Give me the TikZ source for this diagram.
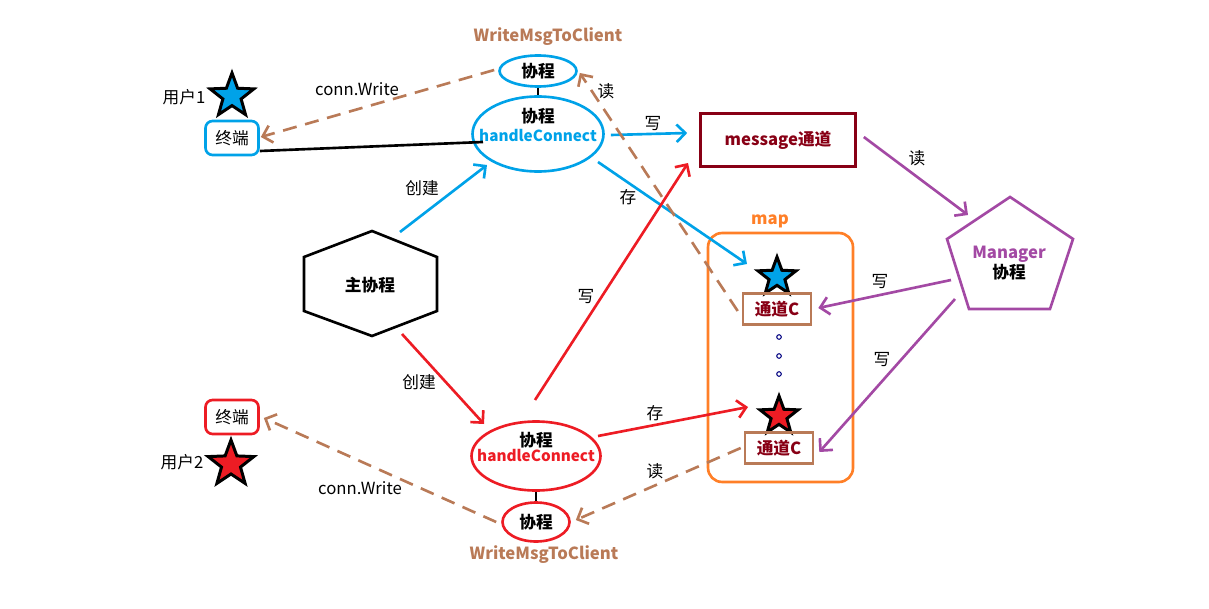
\documentclass[tikz,border=0pt]{standalone}
\usepackage{fontspec}
\setmainfont{Noto Sans CJK SC}
\usetikzlibrary{shapes.geometric,arrows.meta,calc}
\definecolor{cblue}{RGB}{0,162,232}
\definecolor{cred}{RGB}{237,28,36}
\definecolor{cbrown}{RGB}{185,122,87}
\definecolor{cdred}{RGB}{136,0,21}
\definecolor{cpurple}{RGB}{163,73,164}
\definecolor{corange}{RGB}{255,127,39}
\newcommand{\hcname}[1]{\textcolor{#1}{\fontsize{8.7}{11}\selectfont handleConnect}}
\tikzset{
  every node/.style={font=\fontsize{9.5}{11}\selectfont},
  bold/.style={font=\fontsize{9.5}{11}\selectfont\bfseries},
  ubox/.style={draw, line width=1.5pt, rounded corners=4pt, minimum width=1.06cm, minimum height=0.68cm, inner sep=0pt},
  chanbox/.style={draw=cbrown, line width=1.5pt, minimum width=1.36cm, minimum height=0.62cm, inner sep=0pt, text=cdred, bold},
  ell/.style={draw, ellipse, line width=1.5pt, inner sep=0pt},
  userstar/.style={star, star points=5, star point ratio=2.4, draw=black, line width=1.7pt, inner sep=0pt},
  arr/.style={line width=1.5pt, -{Straight Barb[length=5pt,width=10pt]}},
  dasharr/.style={arr, cbrown, dash pattern=on 8pt off 5pt}
}
\begin{document}
\begin{tikzpicture}[x=0.02cm, y=-0.02cm]
  \useasboundingbox (0,0) rectangle (1209,608);
  % main goroutine
  \draw[line width=1.5pt] (372,231) -- (437,257) -- (437,311) -- (372,336) -- (304,311) -- (304,257) -- cycle;
  \node[bold] (main) at (370,285) {主协程};
  % user 1 (top)
  \node[userstar, fill=cblue, minimum size=0.92cm] (star1) at (232,96) {};
  \node (user1) at (184,97) {用户1};
  \node[ubox, draw=cblue] (term1) at (232,138) {终端};
  \node[ell, draw=cblue, minimum width=2.62cm, minimum height=1.5cm] (hc1) at (538,134) {};
  \node[bold, align=center] (hc1txt) at ($(hc1)+(0,-9)$) {协程\\\hcname{cblue}};
  \node[ell, draw=cblue, minimum width=1.54cm, minimum height=0.62cm, bold] (wmt1) at (538,71) {协程};
  \node[bold, text=cbrown] (wmt1lbl) at (548,37) {WriteMsgToClient};
  % user 2 (bottom)
  \node[userstar, fill=cred, minimum size=0.96cm] (star2) at (231,464) {};
  \node (user2) at (182,462) {用户2};
  \node[ubox, draw=cred] (term2) at (232,417) {终端};
  \node[ell, draw=cred, minimum width=2.58cm, minimum height=1.38cm] (hc2) at (536,456) {};
  \node[bold, align=center] (hc2txt) at ($(hc2)+(0,-9)$) {协程\\[-2pt]\hcname{cred}};
  \node[ell, draw=cred, minimum width=1.34cm, minimum height=0.78cm, bold] (wmt2) at (536,522) {协程};
  \node[bold, text=cbrown] (wmt2lbl) at (544,555) {WriteMsgToClient};
  % message channel and manager
  \node[draw=cdred, line width=1.5pt, minimum width=3.1cm, minimum height=1.06cm, bold, text=cdred] (msg) at (778,140) {message通道};
  \draw[cpurple, line width=1.5pt] (1010,197) -- (1073,239) -- (1050,309) -- (969,309) -- (947,239) -- cycle;
  \node[bold, align=center] (mgr) at (1009,263) {\textcolor{cpurple}{Manager}\\协程};
  % map of client channels
  \node[draw=corange, line width=1.5pt, rounded corners=8pt, minimum width=2.9cm, minimum height=4.98cm] (mapbox) at (780.5,357.5) {};
  \node[bold, text=corange] (maplbl) at (770,221) {map};
  \node[userstar, fill=cblue, minimum size=0.8cm] (mstar1) at (777,277) {};
  \node[chanbox] (ch1) at (777,309) {通道C};
  \foreach \y in {337,356,374}
    \draw[blue!50!black, line width=0.6pt] (779,\y) circle (1.3pt);
  \node[userstar, fill=cred, minimum size=0.8cm] (mstar2) at (779,416) {};
  \node[chanbox] (ch2) at (779,448) {通道C};
  % connections
  \draw[line width=1.5pt] ($(term1.east)+(0,13)$) -- ($(hc1)+(-55,8)$);
  \draw[line width=1.5pt] (wmt1.south) -- (hc1.north);
  \draw[line width=1.5pt] (hc2.south) -- (wmt2.north);
  \draw[arr, cblue] ($(main)+(30,-53)$) -- ($(hc1)+(-51,31)$);
  \draw[arr, cred] ($(main)+(32,49)$) -- ($(hc2)+(-52,-32)$);
  \draw[arr, cblue] ($(hc1.east)+(6,1)$) -- ($(msg.west)+(-12,-7)$);
  \draw[arr, cblue] ($(hc1)+(60,28)$) -- ($(mstar1)+(-30,-13)$);
  \draw[arr, cred] ($(hc2)+(-1,-56)$) -- ($(msg)+(-90,23)$);
  \draw[arr, cred] ($(hc2)+(62,-20)$) -- ($(mstar2)+(-31,-9)$);
  \draw[arr, cpurple] ($(msg.east)+(7,-3)$) -- ($(mgr)+(-41,-48)$);
  \draw[arr, cpurple] ($(mgr)+(-58,17)$) -- ($(ch1.east)+(6,-1)$);
  \draw[arr, cpurple] ($(mgr)+(-54,36)$) -- ($(ch2.east)+(5,4)$);
  \draw[dasharr] ($(ch1.west)+(-4,2)$) -- ($(wmt1.east)+(2,2)$);
  \draw[dasharr] ($(ch2.west)+(-3,0)$) -- ($(wmt2.east)+(5,-2)$);
  \draw[dasharr] ($(wmt1.west)+(-4,-1)$) -- ($(term1.east)+(1,-1)$);
  \draw[dasharr] ($(wmt2.west)+(-5,0)$) -- ($(term2.east)+(4,1)$);
  % labels
  \node (lconn1) at (357,89) {conn.Write};
  \node (lconn2) at (360,488) {conn.Write};
  \node (lcreate1) at (422,188) {创建};
  \node (lcreate2) at (419,382) {创建};
  \node (lwrite1) at (653,124) {写};
  \node (lstore1) at (628,197) {存};
  \node (lwrite2) at (586,297) {写};
  \node (lstore2) at (655,413) {存};
  \node (lread1) at (606,91) {读};
  \node (lread2) at (655,471) {读};
  \node (lread3) at (917,158) {读};
  \node (lwrite3) at (880,282) {写};
  \node (lwrite4) at (882,360) {写};
\end{tikzpicture}
\end{document}
